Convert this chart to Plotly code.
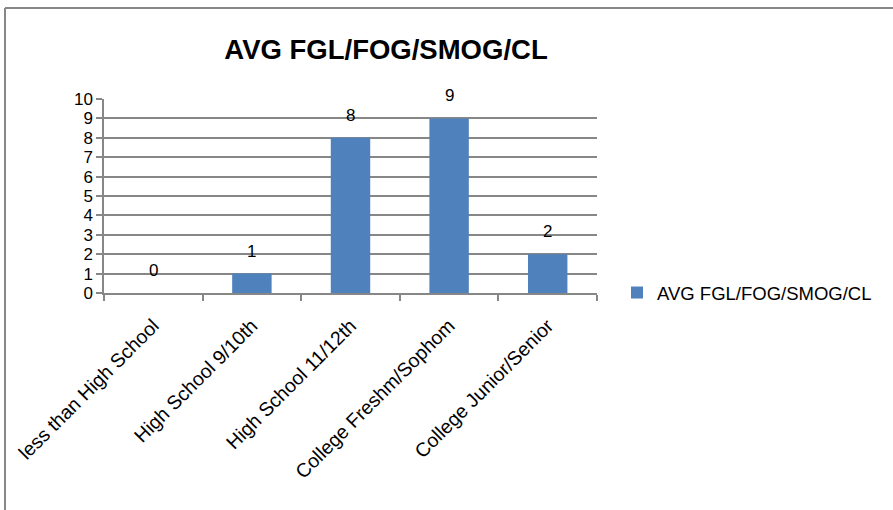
import plotly.graph_objects as go

categories = ["less than High School", "High School 9/10th", "High School 11/12th",
              "College Freshm/Sophom", "College Junior/Senior"]
values = [0, 1, 8, 9, 2]
series_name = "AVG FGL/FOG/SMOG/CL"
title_text = "AVG FGL/FOG/SMOG/CL"
y_ticks = list(range(0, 11))

FONT = "Liberation Sans, Arial, sans-serif"
GRID = "#878787"
BAR = "#4F81BD"

W, H = 893, 510
L, R, T, B = 104, 296, 99, 217
pw, ph = W - L - R, H - T - B

def px_x(p):
    return (p - L) / pw

def px_y(p):
    return (H - B - p) / ph

fig = go.Figure()
fig.add_trace(go.Bar(
    x=categories, y=values, name=series_name,
    marker=dict(color=BAR, line=dict(width=0)),
    cliponaxis=False,
))

annotations = []
for c, v in zip(categories, values):
    annotations.append(dict(x=c, y=v, xref="x", yref="y", text=str(v),
                            showarrow=False, yanchor="bottom", yshift=11,
                            font=dict(family=FONT, size=17, color="#000000")))

shapes = [
    dict(type="line", xref="paper", yref="paper", x0=px_x(5), x1=px_x(905),
         y0=px_y(8), y1=px_y(8), line=dict(color=GRID, width=2)),
    dict(type="line", xref="paper", yref="paper", x0=px_x(5), x1=px_x(5),
         y0=px_y(8), y1=px_y(520), line=dict(color=GRID, width=2)),
]

fig.update_layout(
    width=W, height=H,
    margin=dict(l=L, r=R, t=T, b=B, autoexpand=False),
    paper_bgcolor="white", plot_bgcolor="white",
    font=dict(family=FONT, size=17, color="#000000"),
    title=dict(text="<b>" + title_text + "</b>", x=px_x(386), xref="paper",
               xanchor="center", y=1 - 49 / H, yref="container", yanchor="middle",
               font=dict(family=FONT, size=27.5, color="#000000")),
    bargap=0.6,
    showlegend=True,
    legend=dict(x=px_x(617), y=px_y(293), xref="paper", yref="paper",
                xanchor="left", yanchor="middle", itemwidth=30,
                font=dict(family=FONT, size=18.5, color="#000000"),
                bgcolor="rgba(0,0,0,0)"),
    annotations=annotations,
    shapes=shapes,
)

fig.update_xaxes(
    type="category", tickangle=-45, tickson="boundaries",
    ticks="outside", ticklen=6, tickcolor=GRID, tickwidth=1.5,
    showline=True, linecolor=GRID, linewidth=1.5, ticklabelstandoff=12,
    showgrid=False, tickfont=dict(family=FONT, size=19.5),
)
fig.update_yaxes(
    range=[0, 10], tickvals=y_ticks, ticktext=[str(t) for t in y_ticks],
    ticks="outside", ticklen=6, tickcolor=GRID, tickwidth=1.5,
    showline=True, linecolor=GRID, linewidth=1.5,
    showgrid=True, gridcolor=GRID, gridwidth=1.5, zeroline=False,
    tickfont=dict(family=FONT, size=17),
)

fig.write_html("out.html", config={"displayModeBar": False},
               post_script="document.body.style.margin='0';document.body.style.overflow='hidden';")
